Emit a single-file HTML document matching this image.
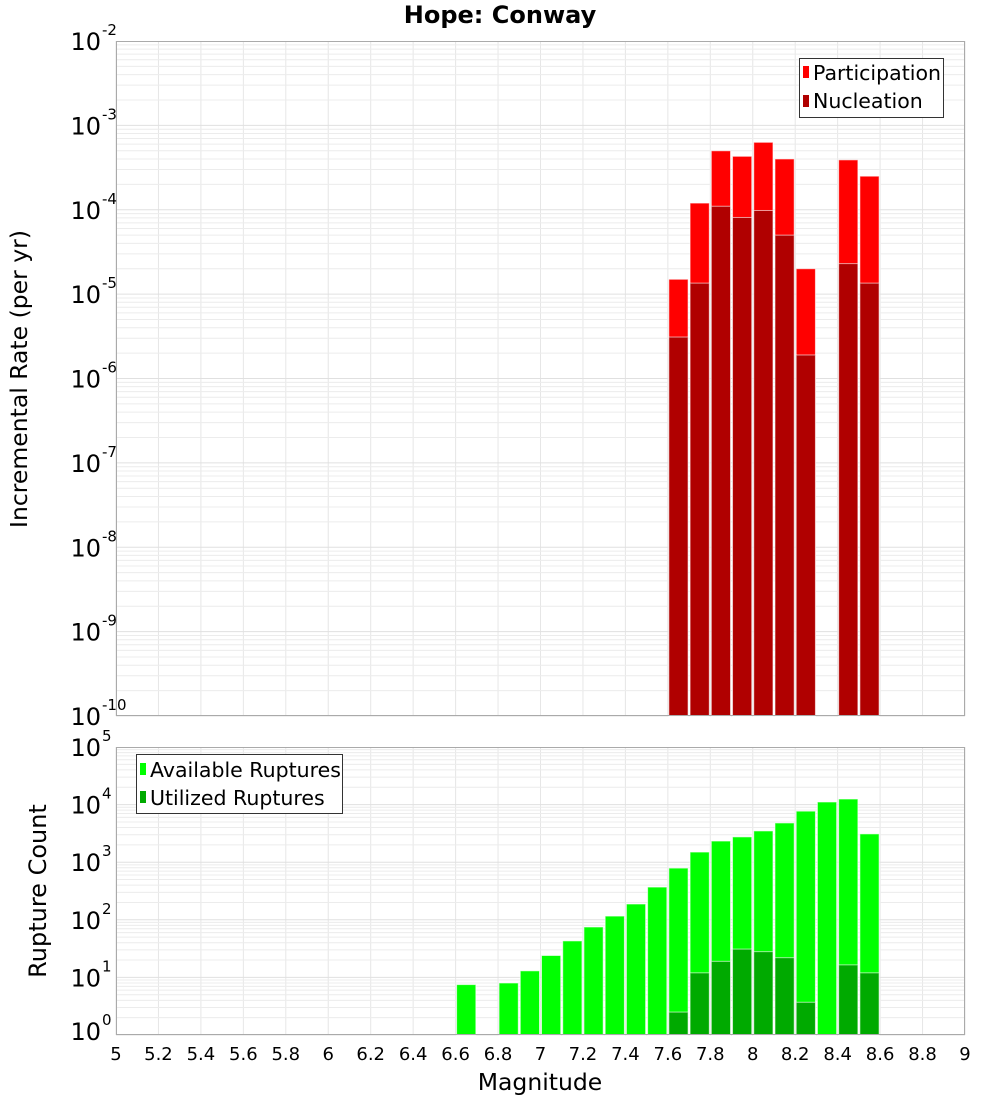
<!DOCTYPE html>
<html><head><meta charset="utf-8"><style>
html,body{margin:0;padding:0;background:#fff;}
svg{display:block;font-family:"Liberation Sans","DejaVu Sans",sans-serif;}
</style></head><body>
<svg id="chart" width="1000" height="1100" viewBox="0 0 1000 1100" xmlns="http://www.w3.org/2000/svg">
<text x="500" y="23" text-anchor="middle" font-size="24" font-weight="bold" font-family="DejaVu Sans, sans-serif">Hope: Conway</text>
<g id="top-grid"></g>
<g id="bot-grid"></g>
<g id="top-bars"></g>
<g id="bot-bars"></g>
<g id="axes"></g>
<text transform="translate(27,379) rotate(-90)" text-anchor="middle" font-size="23.5" font-family="DejaVu Sans, sans-serif">Incremental Rate (per yr)</text>
<text transform="translate(46,891) rotate(-90)" text-anchor="middle" font-size="24" font-family="DejaVu Sans, sans-serif">Rupture Count</text>
<text x="540" y="1090" text-anchor="middle" font-size="23.5" font-family="DejaVu Sans, sans-serif">Magnitude</text>
<g>
<rect x="799.5" y="58.5" width="144" height="59" fill="#fff" stroke="#333" stroke-width="1"/>
<rect x="803" y="66" width="6" height="12" fill="#ff0000"/>
<text x="813" y="80" font-size="20.5" font-family="DejaVu Sans, sans-serif">Participation</text>
<rect x="803" y="95" width="6" height="12" fill="#b00000"/>
<text x="813" y="108" font-size="20.5" font-family="DejaVu Sans, sans-serif">Nucleation</text>
</g>
<g>
<rect x="136.5" y="754.5" width="206" height="59" fill="#fff" stroke="#333" stroke-width="1"/>
<rect x="140" y="763" width="6" height="12" fill="#00ff00"/>
<text x="150" y="777" font-size="20.5" font-family="DejaVu Sans, sans-serif">Available Ruptures</text>
<rect x="140" y="791" width="6" height="12" fill="#00aa00"/>
<text x="150" y="805" font-size="20.5" font-family="DejaVu Sans, sans-serif">Utilized Ruptures</text>
</g>
</svg>
<script>
const rateMags = [7.6,7.7,7.8,7.9,8.0,8.1,8.2,8.4,8.5];
const participation = [1.5e-5,1.2e-4,5.0e-4,4.3e-4,6.3e-4,4.0e-4,2.0e-5,3.9e-4,2.5e-4];
const nucleation = [3.1e-6,1.35e-5,1.1e-4,8.1e-5,9.8e-5,5.0e-5,1.9e-6,2.3e-5,1.35e-5];
const countMags = [6.6,6.8,6.9,7.0,7.1,7.2,7.3,7.4,7.5,7.6,7.7,7.8,7.9,8.0,8.1,8.2,8.3,8.4,8.5];
const available = [7.5,8,13,24,43,75,116,188,370,790,1500,2330,2750,3490,4800,7700,11100,12500,3100];
const utilized = [0,0,0,0,0,0,0,0,0,2.5,12,19,31,28,22,3.7,0,16.5,12];
const xTicks = ["5","5.2","5.4","5.6","5.8","6","6.2","6.4","6.6","6.8","7","7.2","7.4","7.6","7.8","8","8.2","8.4","8.6","8.8","9"];
const rateExps = [-10,-9,-8,-7,-6,-5,-4,-3,-2];
const countExps = [0,1,2,3,4,5];

const NS="http://www.w3.org/2000/svg";
const L=116,R=965,TT=41,TB=716,BT=747,BB=1035;
const X=m=>L+(m-5)/4*(R-L);
const YT=v=>TB-(Math.log10(v)+10)/8*(TB-TT);
const YB=v=>BB-Math.log10(v)/5*(BB-BT);
function mk(tag,attrs,parent){const e=document.createElementNS(NS,tag);for(const k in attrs)e.setAttribute(k,attrs[k]);parent.appendChild(e);return e;}
const tg=document.getElementById('top-grid'),bg=document.getElementById('bot-grid');
const tb=document.getElementById('top-bars'),bb=document.getElementById('bot-bars');
const ax=document.getElementById('axes');
xTicks.forEach(t=>{const x=X(parseFloat(t));
 let l=mk('line',{x1:x,x2:x,y1:TT,y2:TB,stroke:'#e6e6e6','stroke-width':1},tg);
 
 
 l=mk('line',{x1:x,x2:x,y1:BT,y2:BB,stroke:'#e6e6e6','stroke-width':1},bg);
 
 
 const tx=mk('text',{x:x,y:1060,'text-anchor':'middle','font-size':18,'font-family':'DejaVu Sans, sans-serif'},ax);
 tx.textContent=t;
 
 
});
for(let e=-10;e<-2;e++)for(let k=1;k<10;k++){const y=YT(k*Math.pow(10,e));
 const l=mk('line',{x1:L,x2:R,y1:y,y2:y,stroke:k==1?'#e0e0e0':'#ececec','stroke-width':1},tg);
 
 }
for(let e=0;e<5;e++)for(let k=1;k<10;k++){const y=YB(k*Math.pow(10,e));
 const l=mk('line',{x1:L,x2:R,y1:y,y2:y,stroke:k==1?'#e0e0e0':'#ececec','stroke-width':1},bg);
 
 }
function bar(parent,m,y,base,fill,name){const x0=X(m)+1,x1=X(m+0.1)-1;
 const r=mk('rect',{x:x0,y:y,width:x1-x0,height:base-y,fill:fill,stroke:'rgba(255,255,255,0.6)','stroke-width':1},parent);
 
 }
rateMags.forEach((m,i)=>{bar(tb,m,YT(participation[i]),TB,'#ff0000','participation-bar');});
rateMags.forEach((m,i)=>{bar(tb,m,YT(nucleation[i]),TB,'#b00000','nucleation-bar');});
countMags.forEach((m,i)=>{bar(bb,m,YB(available[i]),BB,'#00ff00','available-bar');});
countMags.forEach((m,i)=>{if(utilized[i]>1)bar(bb,m,YB(utilized[i]),BB,'#00aa00','utilized-bar');});
let b=mk('rect',{x:L+0.5,y:TT+0.5,width:R-L-1,height:TB-TT-1,fill:'none',stroke:'#aaa','stroke-width':1},ax);


b=mk('rect',{x:L+0.5,y:BT+0.5,width:R-L-1,height:BB-BT-1,fill:'none',stroke:'#aaa','stroke-width':1},ax);


function ylab(y,e,name){const t=mk('text',{x:101,y:y+9,'text-anchor':'end','font-size':24,'font-family':'DejaVu Sans, sans-serif'},ax);
 t.textContent='10';
 
 
 const s=mk('text',{x:102,y:y-6,'font-size':15,'font-family':'DejaVu Sans, sans-serif'},ax);
 s.textContent=String(e);
 
 }
rateExps.forEach(e=>ylab(YT(Math.pow(10,e)),e,'rate-y-tick-label'));
countExps.forEach(e=>ylab(YB(Math.pow(10,e))-(e==0?4:0),e,'count-y-tick-label'));
</script>
</body></html>
